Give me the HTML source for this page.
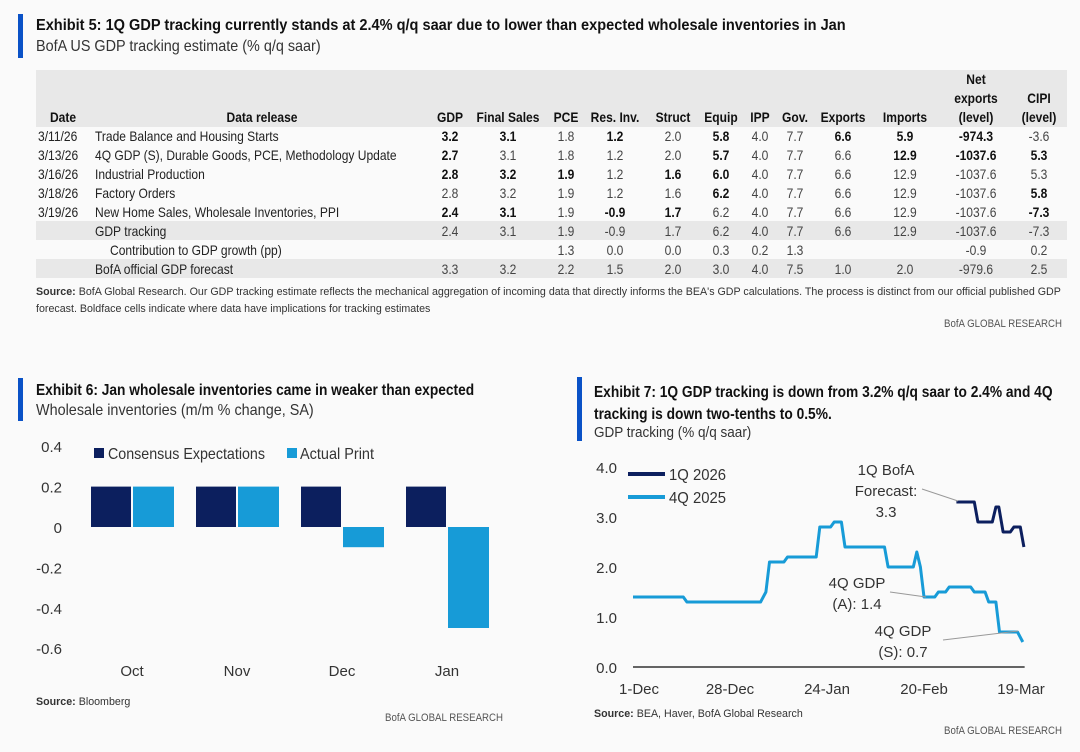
<!DOCTYPE html>
<html><head><meta charset="utf-8">
<style>
body{margin:0;background:#fafafa;}
#root{position:relative;width:1080px;height:752px;overflow:hidden;background:#fafafa;font-family:"Liberation Sans",sans-serif;color:#222;}
.abs{position:absolute;white-space:nowrap;}
.sq{transform:scaleX(.9);transform-origin:left top;}
.bar{position:absolute;background:#0a52c7;width:5px;}
.t{font-weight:bold;font-size:16px;color:#111;}
.s{font-size:16px;color:#333;}
.c{position:absolute;font-size:14px;line-height:19px;white-space:nowrap;color:#444;transform:scaleX(.86);transform-origin:left top;}
.cv{transform-origin:center top;}
.b{font-weight:bold;color:#111;}
.h{position:absolute;font-size:14px;font-weight:bold;text-align:center;line-height:19px;color:#111;transform:scaleX(.86);transform-origin:center top;}
.src{font-size:11px;color:#333;transform:scaleX(.97);transform-origin:left top;}
.gr{font-size:11px;color:#555;transform:scaleX(.88);transform-origin:left top;}
</style></head>
<body>
<div id="root">
<div class="bar" style="left:18px;top:14px;height:44px"></div>
<div class="abs t sq" style="left:36px;top:17px;transform:scaleX(.91)">Exhibit 5: 1Q GDP tracking currently stands at 2.4% q/q saar due to lower than expected wholesale inventories in Jan</div>
<div class="abs s sq" style="left:36px;top:38px">BofA US GDP tracking estimate (% q/q saar)</div>
<div class="abs" style="left:36px;top:70px;width:1031px;height:57px;background:#e8e8e8"></div>
<div class="abs" style="left:36px;top:221px;width:1031px;height:19px;background:#e8e8e8"></div>
<div class="abs" style="left:36px;top:259px;width:1031px;height:19px;background:#e8e8e8"></div>
<div id="tbl"></div>
<div class="abs src" style="left:36px;top:284px;line-height:17px"><b>Source:</b> BofA Global Research. Our GDP tracking estimate reflects the mechanical aggregation of incoming data that directly informs the BEA's GDP calculations. The process is distinct from our official published GDP<br>forecast. Boldface cells indicate where data have implications for tracking estimates</div>
<div class="abs gr" style="left:944px;top:318px">BofA GLOBAL RESEARCH</div>

<div class="bar" style="left:18px;top:378px;height:43px"></div>
<div class="abs t sq" style="left:36px;top:382px;transform:scaleX(.86)">Exhibit 6: Jan wholesale inventories came in weaker than expected</div>
<div class="abs s sq" style="left:36px;top:402px">Wholesale inventories (m/m % change, SA)</div>
<svg class="abs" style="left:0;top:430px" width="560" height="260" id="barsvg"></svg>
<div class="abs src" style="left:36px;top:696px"><b>Source:</b> Bloomberg</div>
<div class="abs gr" style="left:385px;top:712px">BofA GLOBAL RESEARCH</div>

<div class="bar" style="left:577px;top:377px;height:64px"></div>
<div class="abs t sq" style="left:594px;top:382px;line-height:22px;transform:scaleX(.86)">Exhibit 7: 1Q GDP tracking is down from 3.2% q/q saar to 2.4% and 4Q<br>tracking is down two-tenths to 0.5%.</div>
<div class="abs s sq" style="left:594px;top:424px;font-size:15px">GDP tracking (% q/q saar)</div>
<svg class="abs" style="left:560px;top:450px" width="520" height="250" id="linesvg"></svg>
<div class="abs src" style="left:594px;top:708px"><b>Source:</b> BEA, Haver, BofA Global Research</div>
<div class="abs gr" style="left:944px;top:725px">BofA GLOBAL RESEARCH</div>
</div>
<script>
// ---- table ----
const colCenters=[450,508,566,615,673,721,760,795,843,905,976,1039];
const headers=["GDP","Final Sales","PCE","Res. Inv.","Struct","Equip","IPP","Gov.","Exports","Imports","Net<br>exports<br>(level)","CIPI<br>(level)"];
const rowDates=["3/11/26","3/13/26","3/16/26","3/18/26","3/19/26","","",""];
const rowLabels=["Trade Balance and Housing Starts","4Q GDP (S), Durable Goods, PCE, Methodology Update","Industrial Production","Factory Orders","New Home Sales, Wholesale Inventories, PPI","GDP tracking","Contribution to GDP growth (pp)","BofA official GDP forecast"];
const rowValues=[
["*3.2","*3.1","1.8","*1.2","2.0","*5.8","4.0","7.7","*6.6","*5.9","*-974.3","-3.6"],
["*2.7","3.1","1.8","1.2","2.0","*5.7","4.0","7.7","6.6","*12.9","*-1037.6","*5.3"],
["*2.8","*3.2","*1.9","1.2","*1.6","*6.0","4.0","7.7","6.6","12.9","-1037.6","5.3"],
["2.8","3.2","1.9","1.2","1.6","*6.2","4.0","7.7","6.6","12.9","-1037.6","*5.8"],
["*2.4","*3.1","1.9","*-0.9","*1.7","6.2","4.0","7.7","6.6","12.9","-1037.6","*-7.3"],
["2.4","3.1","1.9","-0.9","1.7","6.2","4.0","7.7","6.6","12.9","-1037.6","-7.3"],
["","","1.3","0.0","0.0","0.3","0.2","1.3","","","-0.9","0.2"],
["3.3","3.2","2.2","1.5","2.0","3.0","4.0","7.5","1.0","2.0","-979.6","2.5"]];
const tbl=document.getElementById('tbl');
function cell(cls,txt,left,top,w){const d=document.createElement('div');d.className=cls;d.innerHTML=txt;d.style.left=left+'px';d.style.top=top+'px';if(w){d.style.width=w+'px';d.style.textAlign='center';}tbl.appendChild(d);return d;}
let h=cell('h','Date',33,108,60);
h=cell('h','Data release',162,108,200);
headers.forEach((t,i)=>{const n=(t.match(/<br>/g)||[]).length;const e=cell('h',t,colCenters[i]-40,108-19*n,80);

});
rowLabels.forEach((lab,r)=>{const top=127+r*19;
 if(rowDates[r]){const e=cell('c',rowDates[r],38,top);e.style.color='#222';
 
 }
 const e=cell('c',lab,r==6?110:95,top);e.style.color='#222';
 
 
 rowValues[r].forEach((v,i)=>{if(!v)return;const bold=v[0]=='*';const c=cell('c cv'+(bold?' b':''),bold?v.slice(1):v,colCenters[i]-40,top,80);
 
 });
});
// ---- bar chart ----
const NS='http://www.w3.org/2000/svg';
function el(svg,tag,attrs,txt){const e=document.createElementNS(NS,tag);for(const k in attrs)e.setAttribute(k,attrs[k]);if(txt!==undefined)e.textContent=txt;svg.appendChild(e);return e;}
const F='Liberation Sans, sans-serif';
const barCats=["Oct","Nov","Dec","Jan"];
const consensus=[0.2,0.2,0.2,0.2];
const actual=[0.2,0.2,-0.1,-0.5];
const barTicks=[0.4,0.2,0,-0.2,-0.4,-0.6];
const barTickLabels=["0.4","0.2","0","-0.2","-0.4","-0.6"];
const bs=document.getElementById('barsvg');
const by=v=>97-v*202;
const bx=i=>132+i*105;
barTicks.forEach((t,i)=>{const e=el(bs,'text',{x:62,y:by(t)+6,'text-anchor':'end','font-size':15,fill:'#333','font-family':F},barTickLabels[i]);

});
barCats.forEach((c,i)=>{
 const y1=by(Math.max(0,consensus[i])),h1=Math.abs(by(consensus[i])-by(0));
 let r=el(bs,'rect',{x:bx(i)-41,y:y1,width:40,height:h1,fill:'#0c1f5e'});
 
 
 const y2=by(Math.max(0,actual[i])),h2=Math.abs(by(actual[i])-by(0));
 r=el(bs,'rect',{x:bx(i)+1,y:y2,width:41,height:h2,fill:'#179bd7'});
 
 
 const t=el(bs,'text',{x:bx(i),y:246,'text-anchor':'middle','font-size':15,fill:'#333','font-family':F},c);
 
 
});
let lg=el(bs,'rect',{x:94,y:18,width:10,height:10,fill:'#0c1f5e'});
lg=el(bs,'text',{x:108,y:29,'font-size':16,fill:'#333','font-family':F,textLength:157,lengthAdjust:'spacingAndGlyphs'},'Consensus Expectations');
lg=el(bs,'rect',{x:287,y:18,width:10,height:10,fill:'#179bd7'});
lg=el(bs,'text',{x:300,y:29,'font-size':16,fill:'#333','font-family':F,textLength:74,lengthAdjust:'spacingAndGlyphs'},'Actual Print');
// ---- line chart ----
const q4Days=[0,14,15,35.5,37,38,42,43,51,52,55,56,58,59,70,71,78,79,80,81,84,85,87,88,94,95,98,99,101,102,107,108.5];
const q4Vals=[1.4,1.4,1.3,1.3,1.5,2.1,2.1,2.2,2.2,2.8,2.8,2.9,2.9,2.4,2.4,2.0,2.0,2.3,2.0,1.4,1.4,1.5,1.5,1.6,1.6,1.5,1.5,1.3,1.3,0.7,0.7,0.5];
const q1Days=[90,95,96,100,101,101.8,103,105,106,107.8,108.8];
const q1Vals=[3.3,3.3,2.9,2.9,3.2,3.2,2.7,2.7,2.8,2.8,2.4];
const lineTicks=[0,1,2,3,4];
const lineTickLabels=["0.0","1.0","2.0","3.0","4.0"];
const xTickDays=[0,27,54,81,108];
const xTickLabels=["1-Dec","28-Dec","24-Jan","20-Feb","19-Mar"];
const ls=document.getElementById('linesvg');
const lx=d=>73+d*3.593;
const ly=v=>217-v*50;
lineTicks.forEach((t,i)=>{const e=el(ls,'text',{x:57,y:ly(t)+6,'text-anchor':'end','font-size':15,fill:'#333','font-family':F},lineTickLabels[i]);

});
xTickDays.forEach((d,i)=>{const e=el(ls,'text',{x:lx(d)+(i==0?6:0),y:244,'text-anchor':'middle','font-size':15,fill:'#333','font-family':F},xTickLabels[i]);

});
let ax=el(ls,'line',{x1:lx(0),x2:lx(109),y1:ly(0),y2:ly(0),stroke:'#333','stroke-width':1.5});


function path(days,vals){return days.map((d,i)=>(i?'L':'M')+lx(d).toFixed(1)+','+ly(vals[i]).toFixed(1)).join('');}
let p=el(ls,'path',{d:path(q4Days,q4Vals),fill:'none',stroke:'#179bd7','stroke-width':3,'stroke-linejoin':'round'});


p=el(ls,'path',{d:path(q1Days,q1Vals),fill:'none',stroke:'#0c1f5e','stroke-width':3,'stroke-linejoin':'round'});


let l=el(ls,'line',{x1:68,x2:105,y1:24,y2:24,stroke:'#0c1f5e','stroke-width':4});
l=el(ls,'text',{x:109,y:30,'font-size':16,fill:'#333','font-family':F,textLength:57,lengthAdjust:'spacingAndGlyphs'},'1Q 2026');
l=el(ls,'line',{x1:68,x2:105,y1:47,y2:47,stroke:'#179bd7','stroke-width':4});
l=el(ls,'text',{x:109,y:53,'font-size':16,fill:'#333','font-family':F,textLength:57,lengthAdjust:'spacingAndGlyphs'},'4Q 2025');
function ann(lines,cx,y0,lx1,ly1,lx2,ly2,name){lines.forEach((t,i)=>{const e=el(ls,'text',{x:cx,y:y0+i*21,'text-anchor':'middle','font-size':15,fill:'#333','font-family':F},t);

});
const e=el(ls,'line',{x1:lx1,y1:ly1,x2:lx2,y2:ly2,stroke:'#999','stroke-width':1});

}
ann(['1Q BofA','Forecast:','3.3'],326,25,362,39,398,51,'annotation-1q-forecast');
ann(['4Q GDP','(A): 1.4'],297,138,330,142,366,147,'annotation-4q-advance');
ann(['4Q GDP','(S): 0.7'],343,186,383,190,458,181,'annotation-4q-second');
</script>
</body></html>
